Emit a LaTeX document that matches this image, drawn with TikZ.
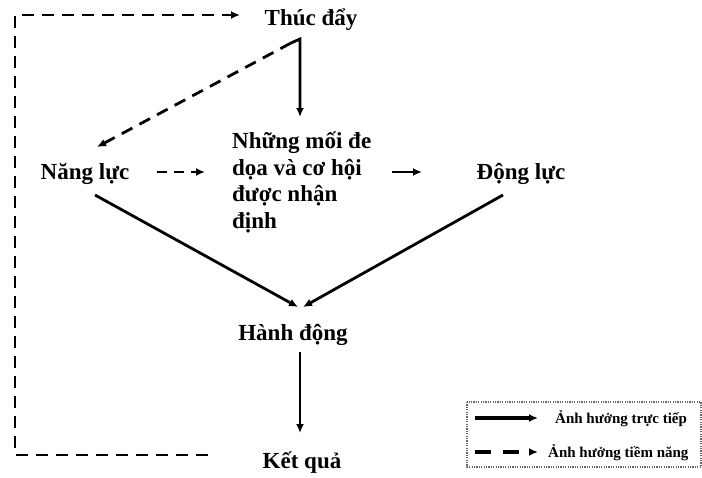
\documentclass[tikz,border=0pt]{standalone}
\usepackage{fontspec}
\setmainfont{Liberation Serif}
\usetikzlibrary{arrows.meta}
\begin{document}
\begin{tikzpicture}[x=1pt,y=-1pt,
  lbl/.style={font=\fontsize{23}{26.5}\selectfont\bfseries, inner sep=0pt},
  leg/.style={font=\fontsize{15}{18}\selectfont\bfseries, inner sep=0pt, anchor=base west},
  direct/.style={line width=2.8pt, -{Latex[length=9pt,width=8pt]}},
  potential/.style={line width=2.8pt, dash pattern=on 12pt off 8pt, -{Latex[length=9pt,width=8pt]}},
  legbox/.style={line width=1.5pt, dash pattern=on 1.2pt off 1.2pt, draw=black!60},
]
\useasboundingbox (0,0) rectangle (702,477);
% nodes
\node[lbl,anchor=base] (thuc) at (311,25) {Thúc đẩy};
\node[lbl,anchor=base] (nang) at (85,179) {Năng lực};
\node[lbl,anchor=base] (dong) at (521,179) {Động lực};
\node[lbl,anchor=base] (hanh) at (293,340) {Hành động};
\node[lbl,anchor=base] (ket) at (302,468) {Kết quả};
\node[lbl,anchor=north west,align=left] (moi) at (232,132) {Những mối đe\\dọa và cơ hội\\được nhận\\định};
% connector end points
\coordinate (hook) at (291,43);
\coordinate (thucB) at (300,39);
\coordinate (moiT) at (300,117);
\coordinate (nangT) at (97,147);
\coordinate (nangR) at (157,172);
\coordinate (moiL) at (205,172);
\coordinate (moiR) at (392,172);
\coordinate (dongL) at (422,172);
\coordinate (nangB) at (95,195);
\coordinate (dongB) at (503,195);
\coordinate (hanhTL) at (298,307);
\coordinate (hanhTR) at (303,307);
\coordinate (hanhB) at (300,352);
\coordinate (ketT) at (300,433);
\coordinate (fbA) at (208,455);
\coordinate (fbB) at (15,455);
\coordinate (fbC) at (15,15);
\coordinate (thucL) at (240,15);
% connectors
\draw[direct] (hook) -- (thucB) -- (moiT);
\draw[potential] (hook) -- (nangT);
\draw[potential, dash pattern=on 10pt off 7pt] (nangR) -- (moiL);
\draw[direct] (moiR) -- (dongL);
\draw[direct] (nangB) -- (hanhTL);
\draw[direct] (dongB) -- (hanhTR);
\draw[direct] (hanhB) -- (ketT);
\draw[potential] (fbA) -- (fbB) -- (fbC) -- (thucL);
% legend
\draw[legbox] (467,402) rectangle (701,467);
\coordinate (l1a) at (475,418);
\coordinate (l1b) at (538,418);
\coordinate (l2a) at (475,452);
\coordinate (l2b) at (538,452);
\draw[direct, line width=3.5pt] (l1a) -- (l1b);
\draw[potential, line width=3.5pt, dash pattern=on 16pt off 12pt] (l2a) -- (l2b);
\node[leg] (leg1) at (555,423) {Ảnh hưởng trực tiếp};
\node[leg] (leg2) at (548,457) {Ảnh hưởng tiềm năng};
\end{tikzpicture}
\end{document}
